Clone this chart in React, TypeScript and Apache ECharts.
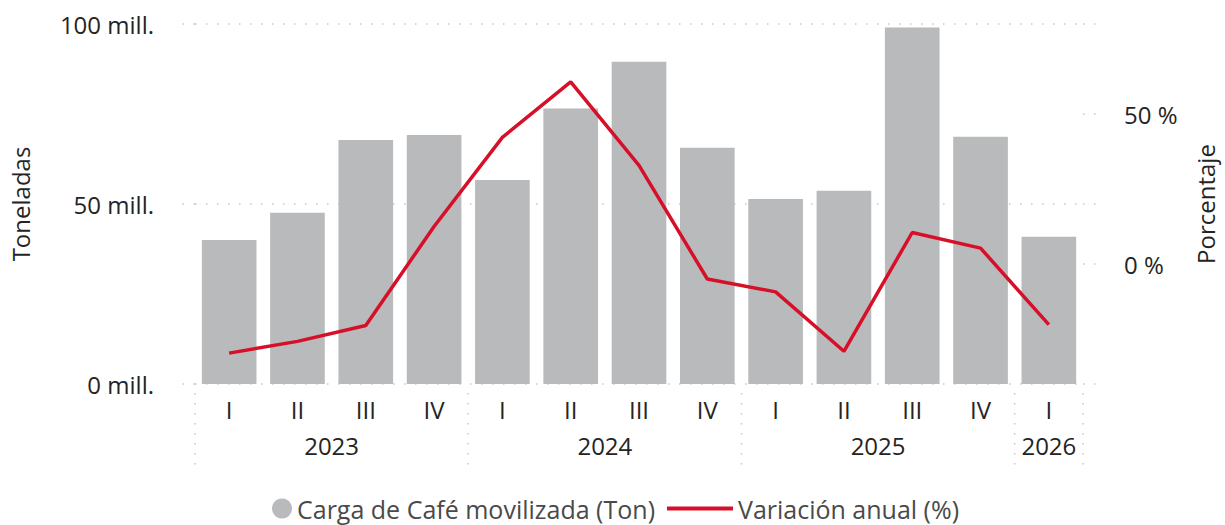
import React, { useEffect, useRef } from "react";
import * as echarts from "echarts";

const quarters = ["I", "II", "III", "IV", "I", "II", "III", "IV", "I", "II", "III", "IV", "I"];
const categoryYears = ["2023", "2023", "2023", "2023", "2024", "2024", "2024", "2024", "2025", "2025", "2025", "2025", "2026"];
// Carga de Café movilizada, millones de toneladas
const cargaMill = [40.0, 47.6, 67.8, 69.2, 56.7, 76.5, 89.5, 65.6, 51.4, 53.7, 99.0, 68.7, 40.9];
// Variación anual (%)
const variacionPct = [-29.7, -25.8, -20.5, 12.5, 42.2, 60.7, 32.9, -5.0, -9.3, -29.1, 10.5, 5.3, -20.2];
const leftTicks = [0, 50e6, 100e6];
const rightLabels = [0, 50];

const BAR_NAME = "Carga de Café movilizada (Ton)";
const LINE_NAME = "Variación anual (%)";
const FONT = '"Open Sans", sans-serif';
const TXT = "#252423";
const DOT = { color: "#c8c8c8", width: 1.5, type: [1.5, 9.5] as any };

export default function App() {
  const ref = useRef<HTMLDivElement>(null);
  useEffect(() => {
    if (!ref.current) return;
    const chart = echarts.init(ref.current, undefined, { renderer: "svg" });

    // year group boundaries and centres (in category units)
    const bounds: number[] = [0];
    const centres: number[] = [];
    const centreYear: Record<string, string> = {};
    let start = 0;
    for (let i = 1; i <= categoryYears.length; i++) {
      if (i === categoryYears.length || categoryYears[i] !== categoryYears[start]) {
        bounds.push(i);
        const c = (start + i) / 2;
        centres.push(c);
        centreYear[String(c)] = categoryYears[start];
        start = i;
      }
    }

    const rMin = -40, rMax = 80;
    const toRight = (v: number) => rMin + (v / 100e6) * (rMax - rMin);

    chart.setOption({
      animation: false,
      textStyle: { fontFamily: FONT },
      grid: { left: 195, right: 138, top: 24, bottom: 141, containLabel: false },
      legend: [
        {
          data: [{ name: BAR_NAME, icon: "circle" }],
          left: 272,
          top: 496,
          padding: 0,
          itemWidth: 20,
          itemHeight: 20,
          itemGap: 0,
          selectedMode: false,
          textStyle: { fontSize: 25, lineHeight: 24, color: "#4a4a4a", fontFamily: FONT },
        },
        {
          data: [{ name: LINE_NAME, icon: "rect" }],
          left: 667,
          top: 496,
          padding: 0,
          itemWidth: 66,
          itemHeight: 4,
          selectedMode: false,
          textStyle: { fontSize: 25, lineHeight: 24, color: "#4a4a4a", fontFamily: FONT },
        },
      ],
      xAxis: [
        {
          type: "category",
          data: quarters,
          axisLine: { show: false },
          axisTick: { show: false },
          axisLabel: { margin: 13, fontSize: 24, color: TXT, fontFamily: FONT },
        },
        {
          type: "value",
          min: 0,
          max: categoryYears.length,
          position: "bottom",
          offset: 9,
          axisLine: { show: false },
          splitLine: { show: false },
          axisTick: { show: false },
          axisLabel: {
            customValues: centres,
            formatter: (v: number) => centreYear[String(v)] ?? "",
            margin: 40,
            fontSize: 24,
            color: TXT,
            fontFamily: FONT,
          },
        },
      ],
      yAxis: [
        {
          type: "value",
          min: 0,
          max: 100e6,
          interval: 50e6,
          name: "Toneladas",
          nameLocation: "middle",
          nameGap: 163,
          nameTextStyle: { fontSize: 24, color: TXT, fontFamily: FONT },
          axisLine: { show: false },
          axisTick: { show: true, length: 22, lineStyle: DOT },
          splitLine: { show: true, lineStyle: DOT },
          axisLabel: {
            formatter: (v: number) => `${Math.round(v / 1e6)} mill.`,
            margin: 41,
            fontSize: 24,
            color: TXT,
            fontFamily: FONT,
          },
        },
        {
          type: "value",
          min: rMin,
          max: rMax,
          position: "right",
          name: "Porcentaje",
          nameLocation: "middle",
          nameGap: 110,
          nameTextStyle: { fontSize: 24, color: TXT, fontFamily: FONT },
          axisLine: { show: false },
          splitLine: { show: false },
          axisTick: {
            show: true,
            customValues: [...leftTicks.map(toRight), ...rightLabels],
            length: 20,
            lineStyle: DOT,
          },
          axisLabel: {
            customValues: rightLabels,
            formatter: (v: number) => `${v} %`,
            margin: 41,
            fontSize: 24,
            color: TXT,
            fontFamily: FONT,
          },
        },
      ],
      series: [
        {
          name: BAR_NAME,
          type: "bar",
          xAxisIndex: 0,
          yAxisIndex: 0,
          data: cargaMill.map((v) => v * 1e6),
          barCategoryGap: "20%",
          color: "#B9BABC",
          itemStyle: { color: "#B9BABC" },
        },
        {
          name: LINE_NAME,
          type: "line",
          xAxisIndex: 0,
          yAxisIndex: 1,
          data: variacionPct,
          symbol: "none",
          color: "#D7102A",
          itemStyle: { color: "#D7102A" },
          lineStyle: { color: "#D7102A", width: 3.5 },
          z: 5,
        },
        {
          name: "year-separators",
          type: "custom",
          xAxisIndex: 0,
          yAxisIndex: 0,
          clip: false,
          silent: true,
          encode: { x: 0, y: 1 },
          data: bounds.map((b) => [0, 0, b]),
          renderItem: (_params: any, api: any) => {
            const b = api.value(2);
            const band = api.size([1, 0])[0];
            const origin = api.coord([0, 0]);
            const x = origin[0] - band / 2 + b * band;
            const y0 = origin[1];
            return {
              type: "line",
              shape: { x1: x, y1: y0 + 9, x2: x, y2: y0 + 81 },
              style: { stroke: "#c8c8c8", lineWidth: 1.5, lineDash: [1.5, 8.5] },
            };
          },
          z: 1,
        },
      ],
    });
    return () => chart.dispose();
  }, []);
  return (
    <div
      ref={ref}
      style={{ position: "fixed", left: 0, top: 0, width: 1225, height: 525, background: "#fff" }}
    />
  );
}
